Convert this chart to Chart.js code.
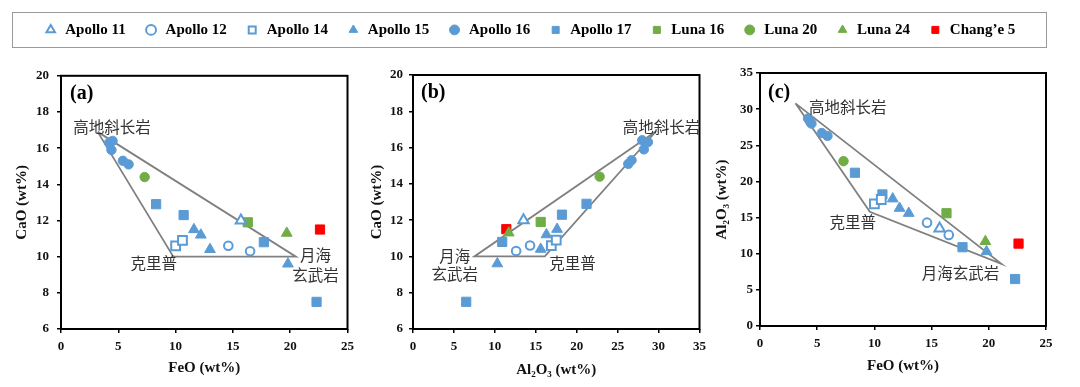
<!DOCTYPE html>
<html>
<head>
<meta charset="utf-8">
<script src="https://cdn.jsdelivr.net/npm/chart.js@4.4.1/dist/chart.umd.min.js"></script>
<style>
  html, body { margin: 0; padding: 0; background: #fff; }
  #wrap { position: relative; width: 1080px; height: 387px; overflow: hidden; background: #fff; }
  canvas { position: absolute; }
  #legendBox { position: absolute; left: 12px; top: 12px; width: 1035px; height: 36px; box-sizing: border-box; border: 1.5px solid #9a9a9a; }
</style>
</head>
<body>
<div id="wrap">
  <canvas id="legendChart" width="1035" height="120" style="left:12px;top:4px"></canvas>
  <div id="legendBox"></div>
  <canvas id="chartA" width="360" height="327" style="left:0;top:60px"></canvas>
  <canvas id="chartB" width="352" height="327" style="left:360px;top:60px"></canvas>
  <canvas id="chartC" width="368" height="327" style="left:712px;top:60px"></canvas>
</div>
<script>
// Données (wt%)
const samples = ["Apollo 11", "Apollo 12", "Apollo 14", "Apollo 15", "Apollo 16", "Apollo 17", "Luna 16", "Luna 20", "Luna 24", "Chang\u2019e 5"];
const feo   = [[15.7], [14.6, 16.5], [10.0, 10.6], [11.6, 12.2, 13.0, 19.8], [4.2, 4.5, 4.4, 5.4, 5.9], [8.3, 10.7, 17.7, 22.3], [16.3], [7.3], [19.7], [22.6]];
const al2o3 = [[13.5], [14.3, 12.6], [16.9, 17.5], [17.6, 16.3, 15.6, 10.3], [28.7, 28.0, 28.2, 26.7, 26.3], [21.2, 18.2, 10.9, 6.5], [15.6], [22.8], [11.7], [11.4]];
const cao   = [[12.0], [10.6, 10.3], [10.6, 10.9], [11.5, 11.2, 10.4, 9.6], [16.3, 16.4, 15.9, 15.3, 15.1], [12.9, 12.3, 10.8, 7.5], [11.9], [14.4], [11.3], [11.5]];

// triangles des trois pôles (高地斜长岩, 克里普, 月海玄武岩)
const triA_feo = [3.2, 9.8, 20.5, 3.2];
const triA_cao = [16.9, 10.0, 10.0, 16.9];
const triB_al  = [29.7, 16.1, 7.5, 29.7];
const triB_cao = [16.9, 10.0, 10.0, 16.9];
const triC_feo = [3.1, 9.6, 21.1, 3.1];
const triC_al  = [30.8, 15.8, 8.6, 30.8];

// styles des symboles
const BLUE = "#5b9bd5", GREEN = "#70ad47", RED = "#ff0000";
const markerStyle = ["triangle", "circle", "rect", "triangle", "circle", "rect", "rect", "circle", "triangle", "rect"];
const markerColor = [BLUE, BLUE, BLUE, BLUE, BLUE, BLUE, GREEN, GREEN, GREEN, RED];
const markerOpen  = [true, true, true, false, false, false, false, false, false, false];
const radiusFilled = { circle: 4.7, rect: 6.5, triangle: 6.2 };
const radiusOpen   = { circle: 4.3, rect: 6.2, triangle: 6.0 };

const SERIF = "'Liberation Serif', 'Times New Roman', serif";
Chart.defaults.font.family = SERIF;
Chart.defaults.color = "#000";

function pointDatasets(xs, ys) {
  return samples.map((name, i) => ({
    label: name,
    data: xs ? xs[i].map((v, j) => ({ x: v, y: ys[i][j] })) : [],
    pointStyle: markerStyle[i],
    pointRadius: (markerOpen[i] ? radiusOpen : radiusFilled)[markerStyle[i]],
    backgroundColor: markerOpen[i] ? "#fff" : markerColor[i],
    borderColor: markerColor[i],
    borderWidth: markerOpen[i] ? 2 : 1,
    order: 1
  }));
}

function lineDataset(xs, ys) {
  return {
    label: "tri",
    data: xs.map((v, i) => ({ x: v, y: ys[i] })),
    showLine: true,
    borderColor: "#808080",
    borderWidth: 1.8,
    pointRadius: 0,
    order: 5
  };
}

// cadre, lettre du panneau et libellés chinois
const panelDecor = {
  id: "panelDecor",
  afterDatasetsDraw(chart, args, opts) {
    const { ctx, chartArea: a, scales: { x, y } } = chart;
    ctx.save();
    ctx.strokeStyle = "#000";
    ctx.lineWidth = 2;
    ctx.strokeRect(a.left, a.top, a.right - a.left, a.bottom - a.top);
    ctx.fillStyle = "#000";
    ctx.font = "bold 20px " + SERIF;
    ctx.textAlign = "left";
    ctx.textBaseline = "middle";
    ctx.fillText(opts.tag, a.left + opts.tagDx, a.top + opts.tagDy);
    ctx.font = "15.5px 'Noto Sans CJK SC'";
    ctx.fillStyle = "#333";
    ctx.textAlign = "center";
    opts.notes.forEach(n => ctx.fillText(n.text, x.getPixelForValue(n.x), y.getPixelForValue(n.y)));
    ctx.restore();
  }
};

function axis(min, max, step, title, fit, tickPad, titlePad, horizontal) {
  return {
    type: "linear",
    min: min, max: max,
    ticks: { stepSize: step, padding: tickPad, font: { size: 13, weight: "bold" }, color: "#111" },
    grid: { drawOnChartArea: false, drawTicks: true, tickLength: 4, color: "#000", lineWidth: 1.5 },
    border: { display: false },
    title: { display: true, text: title, font: { size: 15, weight: "bold" }, color: "#111", padding: titlePad },
    afterFit: s => { if (horizontal) s.height = fit; else s.width = fit; }
  };
}

function makePanel(id, xs, ys, tri, xAx, yAx, pad, decor) {
  new Chart(document.getElementById(id), {
    type: "scatter",
    data: { datasets: [lineDataset(tri[0], tri[1])].concat(pointDatasets(xs, ys)) },
    options: {
      responsive: false,
      animation: false,
      layout: { padding: pad },
      scales: { x: xAx, y: yAx },
      plugins: { legend: { display: false }, tooltip: { enabled: false }, panelDecor: decor }
    },
    plugins: [panelDecor]
  });
}

// (a) CaO vs FeO
makePanel("chartA", feo, cao, [triA_feo, triA_cao],
  axis(0, 25, 5, "FeO (wt%)", 58, 6, { top: 0, bottom: 10 }, true),
  axis(6, 20, 2, "CaO (wt%)", 61, 8, { top: 13, bottom: 0 }, false),
  { top: 15, right: 10, left: 0, bottom: 0 },
  { tag: "(a)", tagDx: 9, tagDy: 18, notes: [
    { text: "高地斜长岩", x: 4.45, y: 17.15 },
    { text: "克里普", x: 8.1, y: 9.67 },
    { text: "月海", x: 22.2, y: 10.08 },
    { text: "玄武岩", x: 22.2, y: 9.0 }
  ] });

// (b) CaO vs Al2O3
makePanel("chartB", al2o3, cao, [triB_al, triB_cao],
  axis(0, 35, 5, "Al\u2082O\u2083 (wt%)", 58, 6, { top: 0, bottom: 8 }, true),
  axis(6, 20, 2, "CaO (wt%)", 53, 6, { top: 8, bottom: 0 }, false),
  { top: 15, right: 10, left: 0, bottom: 0 },
  { tag: "(b)", tagDx: 8, tagDy: 18, notes: [
    { text: "高地斜长岩", x: 30.35, y: 17.15 },
    { text: "克里普", x: 19.5, y: 9.62 },
    { text: "月海", x: 5.1, y: 10.04 },
    { text: "玄武岩", x: 5.1, y: 9.0 }
  ] });

// (c) Al2O3 vs FeO
makePanel("chartC", feo, al2o3, [triC_feo, triC_al],
  axis(0, 25, 5, "FeO (wt%)", 61, 6, { top: 0, bottom: 12 }, true),
  axis(0, 35, 5, "Al\u2082O\u2083 (wt%)", 48, 3, { top: 1, bottom: 0 }, false),
  { top: 13, right: 34, left: 0, bottom: 0 },
  { tag: "(c)", tagDx: 8, tagDy: 20, notes: [
    { text: "高地斜长岩", x: 7.67, y: 30.34 },
    { text: "克里普", x: 8.1, y: 14.35 },
    { text: "月海玄武岩", x: 17.53, y: 7.29 }
  ] });

// légende commune
new Chart(document.getElementById("legendChart"), {
  type: "scatter",
  data: { datasets: pointDatasets(null, null) },
  options: {
    responsive: false,
    animation: false,
    scales: { x: { display: false }, y: { display: false } },
    plugins: {
      tooltip: { enabled: false },
      legend: {
        display: true,
        position: "top",
        labels: {
          usePointStyle: true,
          boxWidth: 14,
          boxHeight: 7,
          padding: 18.4,
          color: "#000",
          font: { size: 15, weight: "bold" }
        }
      }
    }
  }
});
</script>
</body>
</html>
